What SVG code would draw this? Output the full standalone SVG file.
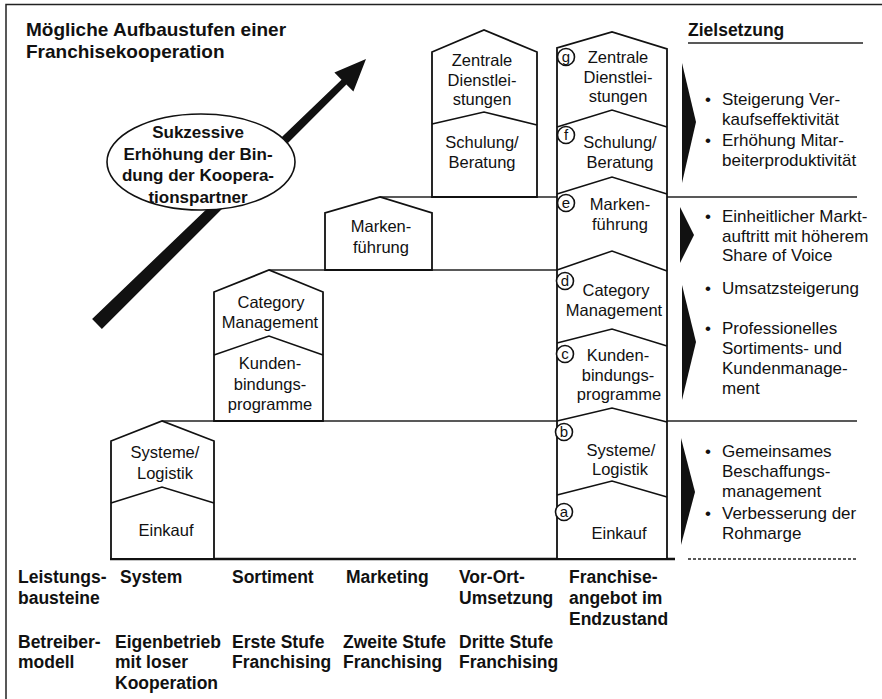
<svg xmlns="http://www.w3.org/2000/svg" width="882" height="699" viewBox="0 0 882 699">
<style>
.frame{fill:none;stroke:#222;stroke-width:1.5}
.house{fill:#fff;stroke:#111;stroke-width:1.8;stroke-linejoin:miter}
.div{fill:none;stroke:#111;stroke-width:1.6}
.step{fill:none;stroke:#222;stroke-width:1.5}
.t{font-family:"Liberation Sans",Arial,sans-serif;font-size:16.5px;fill:#111;text-anchor:middle}
.r{font-family:"Liberation Sans",Arial,sans-serif;font-size:17px;fill:#111}
.b{font-family:"Liberation Sans",Arial,sans-serif;font-size:17.5px;font-weight:bold;fill:#111}
.bc{font-family:"Liberation Sans",Arial,sans-serif;font-size:17px;font-weight:bold;fill:#111;text-anchor:middle}
.ttl{font-family:"Liberation Sans",Arial,sans-serif;font-size:19px;font-weight:bold;fill:#111}
.circ{fill:#fff;stroke:#111;stroke-width:1.6}
.lt{font-family:"Liberation Sans",Arial,sans-serif;font-size:15px;fill:#111;text-anchor:middle}
.tri{fill:#111;stroke:none}
</style>
<rect x="0" y="0" width="882" height="699" fill="#fff"/>
<path class="frame" d="M6,699 V4.5 H882"/>
<g id="title">
<text class="ttl" x="26" y="36">Mögliche Aufbaustufen einer</text>
<text class="ttl" x="26" y="58">Franchisekooperation</text>
</g>
<g id="arrow">
<polygon class="tri" points="92.1,319 101.9,329 346.4,84.6 353.4,91.6 366,59 334.4,72.6 341.5,79.7"/>
</g>
<g id="ellipse">
<ellipse cx="201" cy="162" rx="94" ry="48" fill="#fff" stroke="#111" stroke-width="1.6"/>
<text class="bc" x="198" y="138">Sukzessive</text>
<text class="bc" x="198" y="160">Erhöhung der Bin-</text>
<text class="bc" x="198" y="181">dung der Koopera-</text>
<text class="bc" x="198" y="203">tionspartner</text>
</g>
<g id="connectors">
<line class="step" x1="162" y1="421" x2="557" y2="421"/>
<line class="step" x1="667" y1="421" x2="857" y2="421"/>
<line class="step" x1="269" y1="270" x2="557" y2="270"/>
<line class="step" x1="380" y1="197" x2="557" y2="197"/>
<line class="step" x1="667" y1="197" x2="857" y2="197"/>
<line class="step" x1="688" y1="43" x2="863" y2="43"/>
<line x1="110" y1="559" x2="675" y2="559" stroke="#111" stroke-width="2.5"/>
<line x1="688" y1="559" x2="857" y2="559" stroke="#222" stroke-width="1.3" stroke-dasharray="3,2"/>
</g>
<g id="house-system">
<polygon class="house" points="111,559 111,441 162,421 214,441 214,559"/>
<polyline class="div" points="111,503 162,487 214,503"/>
<text class="t" x="165" y="458">Systeme/</text>
<text class="t" x="165" y="479">Logistik</text>
<text class="t" x="166" y="536">Einkauf</text>
</g>
<g id="house-sortiment">
<polygon class="house" points="214,421 214,292 269,270 323,292 323,421"/>
<polyline class="div" points="214,355 269,336 323,355"/>
<text class="t" x="271" y="308">Category</text>
<text class="t" x="270" y="328">Management</text>
<text class="t" x="270" y="369">Kunden-</text>
<text class="t" x="270" y="390">bindungs-</text>
<text class="t" x="270" y="410">programme</text>
</g>
<g id="house-marketing">
<polygon class="house" points="325,270 325,213 380,197 432,213 432,270"/>
<text class="t" x="381" y="232">Marken-</text>
<text class="t" x="381" y="253">führung</text>
</g>
<g id="house-vorort">
<polygon class="house" points="432,197 432,52 484,30 537,52 537,197"/>
<polyline class="div" points="432,124 484,112 537,125"/>
<text class="t" x="482" y="66">Zentrale</text>
<text class="t" x="482" y="86">Dienstlei-</text>
<text class="t" x="482" y="105">stungen</text>
<text class="t" x="482" y="148">Schulung/</text>
<text class="t" x="482" y="168">Beratung</text>
</g>
<g id="house-final">
<polygon class="house" points="557,559 557,48 612,32 667,49 667,559"/>
<polyline class="div" points="557,127 612,110 667,127"/>
<polyline class="div" points="557,194 612,177 667,194"/>
<polyline class="div" points="557,270 612,251 667,271"/>
<polyline class="div" points="557,343 612,329 667,346"/>
<polyline class="div" points="557,421 612,408 667,422"/>
<polyline class="div" points="557,495 612,481 667,497"/>
<text class="t" x="618" y="63">Zentrale</text>
<text class="t" x="618" y="83">Dienstlei-</text>
<text class="t" x="618" y="102">stungen</text>
<text class="t" x="620" y="148">Schulung/</text>
<text class="t" x="620" y="168">Beratung</text>
<text class="t" x="620" y="210">Marken-</text>
<text class="t" x="620" y="230">führung</text>
<text class="t" x="616" y="296">Category</text>
<text class="t" x="614" y="316">Management</text>
<text class="t" x="618" y="361">Kunden-</text>
<text class="t" x="618" y="381">bindungs-</text>
<text class="t" x="619" y="400">programme</text>
<text class="t" x="621" y="456">Systeme/</text>
<text class="t" x="620" y="475">Logistik</text>
<text class="t" x="619" y="539">Einkauf</text>
<circle class="circ" cx="566" cy="57" r="8.5"/><text class="lt" x="566" y="62">g</text>
<circle class="circ" cx="566" cy="135" r="8.5"/><text class="lt" x="566" y="140">f</text>
<circle class="circ" cx="566" cy="203" r="8.5"/><text class="lt" x="566" y="208">e</text>
<circle class="circ" cx="565" cy="281" r="8.5"/><text class="lt" x="565" y="286">d</text>
<circle class="circ" cx="565" cy="354" r="8.5"/><text class="lt" x="565" y="359">c</text>
<circle class="circ" cx="564" cy="432" r="8.5"/><text class="lt" x="564" y="437">b</text>
<circle class="circ" cx="564" cy="512" r="8.5"/><text class="lt" x="564" y="517">a</text>
</g>
<g id="zielsetzung">
<text class="b" x="688" y="36">Zielsetzung</text>
<polygon class="tri" points="682,63 696,122 682,183"/>
<polygon class="tri" points="680,207 694,235 680,263"/>
<polygon class="tri" points="682,285 696,342 682,400"/>
<polygon class="tri" points="681,438 695,492 681,545"/>
<text class="r" x="705" y="105">•</text><text class="r" x="722" y="105">Steigerung Ver-</text>
<text class="r" x="722" y="125">kaufseffektivität</text>
<text class="r" x="705" y="146">•</text><text class="r" x="722" y="146">Erhöhung Mitar-</text>
<text class="r" x="722" y="166">beiterproduktivität</text>
<text class="r" x="705" y="222">•</text><text class="r" x="722" y="222">Einheitlicher Markt-</text>
<text class="r" x="722" y="242">auftritt mit höherem</text>
<text class="r" x="722" y="261">Share of Voice</text>
<text class="r" x="705" y="294">•</text><text class="r" x="722" y="294">Umsatzsteigerung</text>
<text class="r" x="705" y="334">•</text><text class="r" x="722" y="334">Professionelles</text>
<text class="r" x="722" y="354">Sortiments- und</text>
<text class="r" x="722" y="374">Kundenmanage-</text>
<text class="r" x="722" y="394">ment</text>
<text class="r" x="705" y="457">•</text><text class="r" x="722" y="457">Gemeinsames</text>
<text class="r" x="722" y="477">Beschaffungs-</text>
<text class="r" x="722" y="497">management</text>
<text class="r" x="705" y="519">•</text><text class="r" x="722" y="519">Verbesserung der</text>
<text class="r" x="722" y="539">Rohmarge</text>
</g>
<g id="labels">
<text class="b" x="18" y="583">Leistungs-</text>
<text class="b" x="18" y="604">bausteine</text>
<text class="b" x="120" y="583">System</text>
<text class="b" x="232" y="583">Sortiment</text>
<text class="b" x="346" y="583">Marketing</text>
<text class="b" x="459" y="583">Vor-Ort-</text>
<text class="b" x="459" y="604">Umsetzung</text>
<text class="b" x="569" y="583">Franchise-</text>
<text class="b" x="569" y="604">angebot im</text>
<text class="b" x="569" y="625">Endzustand</text>
<text class="b" x="18" y="648">Betreiber-</text>
<text class="b" x="18" y="668">modell</text>
<text class="b" x="115" y="648">Eigenbetrieb</text>
<text class="b" x="115" y="668">mit loser</text>
<text class="b" x="115" y="689">Kooperation</text>
<text class="b" x="232" y="648">Erste Stufe</text>
<text class="b" x="232" y="668">Franchising</text>
<text class="b" x="343" y="648">Zweite Stufe</text>
<text class="b" x="343" y="668">Franchising</text>
<text class="b" x="459" y="648">Dritte Stufe</text>
<text class="b" x="459" y="668">Franchising</text>
</g>
</svg>
